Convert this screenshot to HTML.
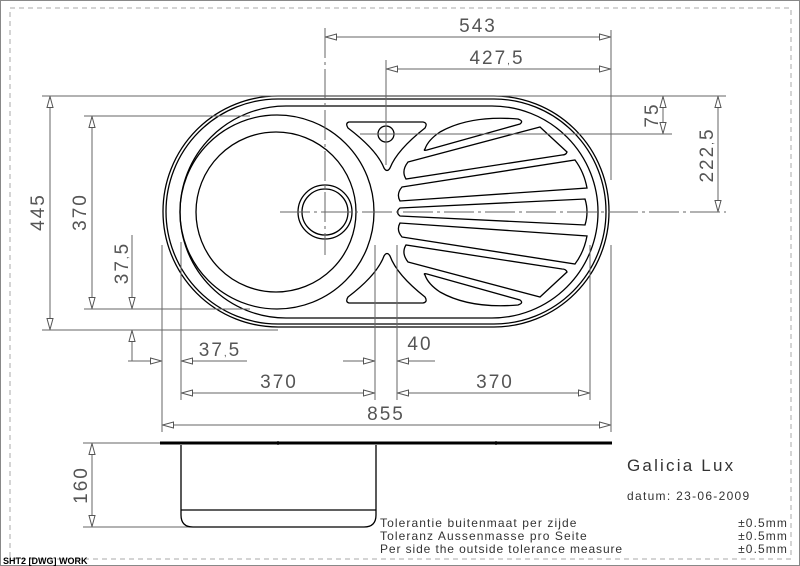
<!DOCTYPE html>
<html><head><meta charset="utf-8"><style>
html,body{margin:0;padding:0;background:#fff}
svg{display:block}
.d{stroke:#666;stroke-width:1;fill:none}
.s{stroke:#000;stroke-width:1.3;fill:none}
.t{font-family:"Liberation Sans",sans-serif;fill:#555;font-weight:300;font-size:19px;letter-spacing:2px}
.c{font-size:10px}
</style></head><body>
<svg width="800" height="566" viewBox="0 0 800 566" xmlns="http://www.w3.org/2000/svg">
<defs>
<marker id="a" viewBox="0 0 12 8" refX="12" refY="4" markerWidth="12" markerHeight="8" markerUnits="userSpaceOnUse" orient="auto-start-reverse">
<path d="M0.5,1 L11.5,4 L0.5,7 Z" fill="#fff" stroke="#555" stroke-width="1"/>
</marker>
</defs>
<rect x="0.5" y="0.5" width="799" height="565" fill="none" stroke="#888"/>
<rect x="10" y="8" width="781" height="551" fill="none" stroke="#aaa" stroke-dasharray="5,4"/>
<text x="3" y="564" font-family="Liberation Sans,sans-serif" font-size="9" font-weight="bold" fill="#000">SHT2 [DWG] WORK</text>

<!-- sink top view -->
<path class="s" d="M278,96 L494,96 A115,115.5 0 0 1 494,327 L278,327 A115,115.5 0 0 1 278,96 Z"/>
<path class="s" stroke-width="1" d="M278,99 L494,99 A112,112.5 0 0 1 494,324 L278,324 A112,112.5 0 0 1 278,99 Z"/>
<path class="s" d="M286,106 L492,106 A106,106 0 0 1 492,318 L286,318 A106,106 0 0 1 286,106 Z"/>
<circle class="s" cx="277" cy="212" r="97"/>
<circle class="s" cx="276" cy="212" r="80"/>
<circle class="s" cx="325" cy="212" r="27"/>
<circle class="s" cx="325" cy="212" r="23"/>
<!-- faucet triangle -->
<path class="s" d="M349,122 L423,122 Q428,123 425,128 Q397,150 390,168 Q387,173 384,168 Q377,150 348,128 Q345,123 349,122 Z"/>
<circle class="s" cx="386" cy="134" r="8"/>
<path class="s" d="M349,303 L423,303 Q428,302 425,297 Q397,275 390,256 Q387,251 384,256 Q377,275 348,297 Q345,302 349,303 Z"/>
<!-- ribs -->
<g class="s">
<path d="M425,149 Q428,140 440,132 Q470,115 518,119 Q524,121 520,124 L427,150 Q423,151 425,149 Z"/>
<path d="M408,162 L540,127 L567,152 Q566,155 562,155 L406,179 Q401,171 408,162 Z"/>
<path d="M402,187 L575,160 Q584,172 587,188 L400,201 Q396,194 402,187 Z"/>
<path d="M400,208 L585,199 Q589,212 585,225 L400,216 Q395,212 400,208 Z"/>
<path d="M402,237 L575,264 Q584,252 587,236 L400,223 Q396,230 402,237 Z"/>
<path d="M408,262 L540,297 L567,272 Q566,269 562,269 L406,245 Q401,253 408,262 Z"/>
<path d="M425,275 Q428,284 440,292 Q470,309 518,305 Q524,303 520,300 L427,274 Q423,273 425,275 Z"/>
</g>
<!-- centerlines -->
<g class="d" stroke="#333">
<line x1="325" y1="28" x2="325" y2="255" stroke-dasharray="30,4,3,4"/>
<line x1="280" y1="212" x2="726" y2="212" stroke-dasharray="30,4,3,4"/>
<line x1="386" y1="60" x2="386" y2="165"/>
<line x1="360" y1="134" x2="672" y2="134"/>
</g>
<!-- dimensions -->
<g class="d">
<line x1="611" y1="30" x2="611" y2="180"/>
<line x1="325" y1="37" x2="611" y2="37" marker-start="url(#a)" marker-end="url(#a)"/>
<line x1="386" y1="69" x2="611" y2="69" marker-start="url(#a)" marker-end="url(#a)"/>
<line x1="42" y1="96" x2="726" y2="96"/>
<line x1="42" y1="330" x2="278" y2="330"/>
<line x1="84" y1="116" x2="250" y2="116"/>
<line x1="84" y1="309" x2="250" y2="309"/>
<line x1="50" y1="96" x2="50" y2="330" marker-start="url(#a)" marker-end="url(#a)"/>
<line x1="92" y1="116" x2="92" y2="309" marker-start="url(#a)" marker-end="url(#a)"/>
<line x1="132" y1="235" x2="132" y2="309" marker-end="url(#a)"/>
<line x1="132" y1="361" x2="132" y2="330" marker-end="url(#a)"/>
<line x1="128" y1="361" x2="162" y2="361" marker-end="url(#a)"/>
<line x1="247" y1="361" x2="181" y2="361" marker-end="url(#a)"/>
<line x1="343" y1="361" x2="375" y2="361" marker-end="url(#a)"/>
<line x1="435" y1="361" x2="397" y2="361" marker-end="url(#a)"/>
<line x1="181" y1="393" x2="375" y2="393" marker-start="url(#a)" marker-end="url(#a)"/>
<line x1="397" y1="393" x2="590" y2="393" marker-start="url(#a)" marker-end="url(#a)"/>
<line x1="162" y1="425" x2="611" y2="425" marker-start="url(#a)" marker-end="url(#a)"/>
<line x1="162" y1="245" x2="162" y2="432"/>
<line x1="181" y1="242" x2="181" y2="400"/>
<line x1="375" y1="245" x2="375" y2="400"/>
<line x1="397" y1="245" x2="397" y2="400"/>
<line x1="590" y1="245" x2="590" y2="400"/>
<line x1="611" y1="245" x2="611" y2="432"/>
<line x1="663" y1="96" x2="663" y2="134" marker-start="url(#a)" marker-end="url(#a)"/>
<line x1="718" y1="96" x2="718" y2="212" marker-start="url(#a)" marker-end="url(#a)"/>
<line x1="83" y1="443" x2="180" y2="443"/>
<line x1="83" y1="527" x2="190" y2="527"/>
<line x1="92" y1="443" x2="92" y2="527" marker-start="url(#a)" marker-end="url(#a)"/>
</g>
<!-- dimension texts -->
<g class="t">
<text x="478" y="32" text-anchor="middle">543</text>
<text x="497" y="64" text-anchor="middle">427<tspan class="c">,</tspan>5</text>
<text transform="translate(44,212) rotate(-90)" text-anchor="middle">445</text>
<text transform="translate(86,212) rotate(-90)" text-anchor="middle">370</text>
<text transform="translate(128,263) rotate(-90)" text-anchor="middle">37<tspan class="c">,</tspan>5</text>
<text x="220" y="356" text-anchor="middle">37<tspan class="c">,</tspan>5</text>
<text x="420" y="350" text-anchor="middle">40</text>
<text x="279" y="388" text-anchor="middle">370</text>
<text x="495" y="388" text-anchor="middle">370</text>
<text x="386" y="420" text-anchor="middle">855</text>
<text transform="translate(658,115) rotate(-90)" text-anchor="middle">75</text>
<text transform="translate(713,155) rotate(-90)" text-anchor="middle">222<tspan class="c">,</tspan>5</text>
<text transform="translate(87,485) rotate(-90)" text-anchor="middle">160</text>
</g>
<!-- side view -->
<path d="M160,443 L612,443" stroke="#000" stroke-width="3"/>
<line x1="278" y1="441" x2="278" y2="445" stroke="#000"/>
<line x1="496" y1="441" x2="496" y2="445" stroke="#000"/>
<path class="s" d="M181,445 L181,515 Q181,527 193,527 L364,527 Q376,527 376,515 L376,445"/>
<line class="s" x1="181" y1="510" x2="376" y2="510"/>
<!-- title block -->
<g font-family="Liberation Sans,sans-serif" fill="#333" font-weight="300">
<text x="627" y="471" font-size="17" letter-spacing="2.2">Galicia Lux</text>
<text x="627" y="500" font-size="12" letter-spacing="1.3">datum: 23-06-2009</text>
<g font-size="12" letter-spacing="1.1">
<text x="380" y="527">Tolerantie buitenmaat per zijde</text>
<text x="380" y="540">Toleranz Aussenmasse pro Seite</text>
<text x="380" y="553" letter-spacing="0.9">Per side the outside tolerance measure</text>
<text x="788" y="527" text-anchor="end">±0.5mm</text>
<text x="788" y="540" text-anchor="end">±0.5mm</text>
<text x="788" y="553" text-anchor="end">±0.5mm</text>
</g>
</g>
</svg>
</body></html>
